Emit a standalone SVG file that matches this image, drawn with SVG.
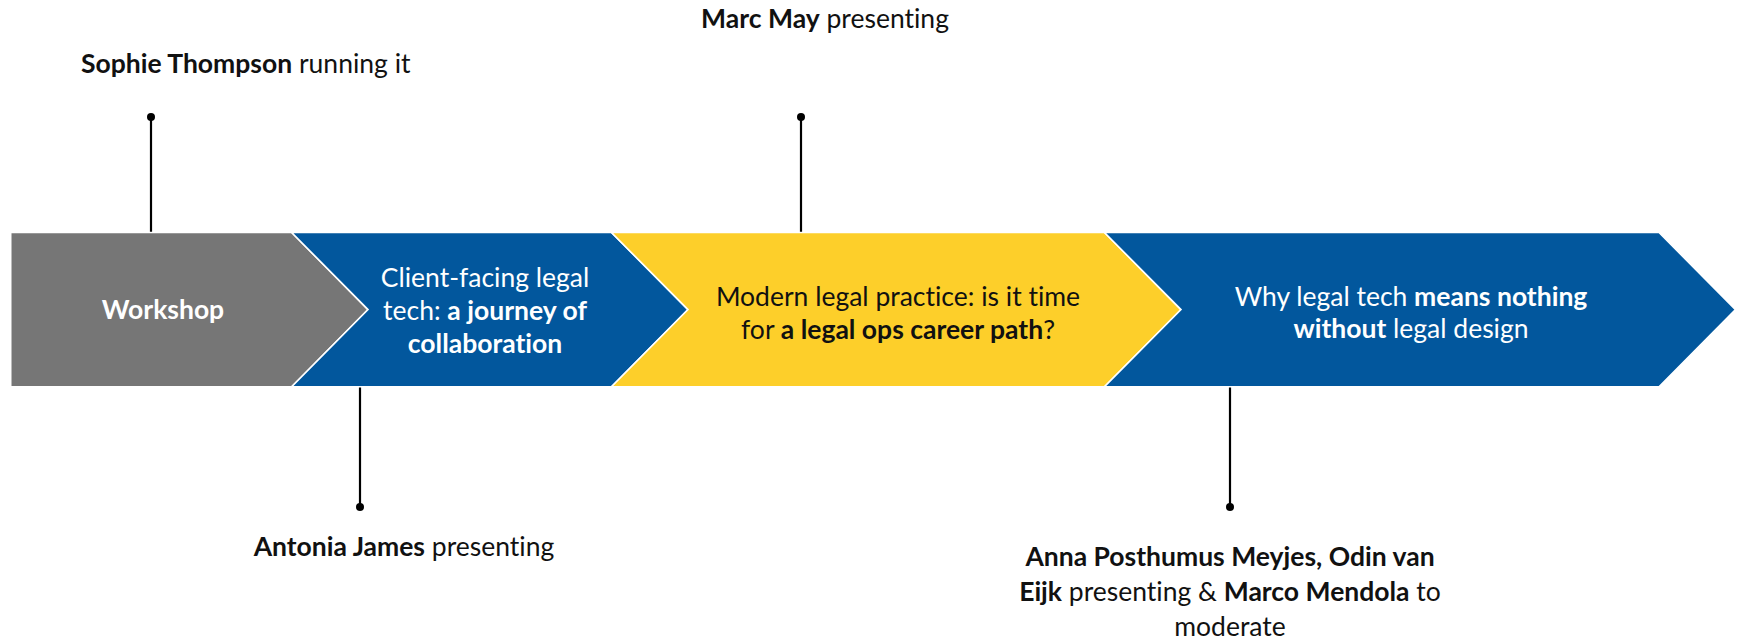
<svg xmlns="http://www.w3.org/2000/svg" width="1737" height="641" viewBox="0 0 1737 641">
<style>
text{font-family:Lato,"Open Sans","Liberation Sans",sans-serif;font-size:26.5px;font-variant-ligatures:none}
.b{font-weight:bold}
.w{fill:#ffffff}
.k{fill:#111111}
.c{text-anchor:middle}
.chev{stroke:#ffffff;stroke-width:1.6}
.ln{stroke:#000;stroke-width:2.2;fill:none}
</style>
<rect width="1737" height="641" fill="#ffffff"/>
<g id="connectors">
<line class="ln" x1="151" y1="117" x2="151" y2="233"/>
<circle cx="151" cy="117" r="4"/>
<line class="ln" x1="801" y1="117" x2="801" y2="233"/>
<circle cx="801" cy="117" r="4"/>
<line class="ln" x1="360" y1="387" x2="360" y2="507"/>
<circle cx="360" cy="507" r="4"/>
<line class="ln" x1="1230" y1="387" x2="1230" y2="507"/>
<circle cx="1230" cy="507" r="4"/>
</g>
<g id="node-workshop">
<path class="chev" fill="#767676" d="M10.7,232.5 H291.7 L368,309.6 L291.7,386.7 H10.7 Z"/>
<text class="w b c" x="163" y="319">Workshop</text>
</g>
<g id="node-client">
<path class="chev" fill="#02579D" d="M291.7,232.5 H611.5 L688,309.6 L611.5,386.7 H291.7 L368,309.6 Z"/>
<text class="w c" x="485" y="287">Client-facing legal</text>
<text class="w c" x="485" y="320">tech: <tspan class="b">a journey of</tspan></text>
<text class="w c b" x="485" y="353">collaboration</text>
</g>
<g id="node-modern">
<path class="chev" fill="#FDCF2A" d="M611.5,232.5 H1104.5 L1181,309.6 L1104.5,386.7 H611.5 L688,309.6 Z"/>
<text class="k c" x="898" y="306">Modern legal practice: is it time</text>
<text class="k c" x="898" y="339">for <tspan class="b">a legal ops career path</tspan>?</text>
</g>
<g id="node-why">
<path class="chev" fill="#02579D" d="M1104.5,232.5 H1659 L1735.5,309.6 L1659,386.7 H1104.5 L1181,309.6 Z"/>
<text class="w c" x="1411" y="306">Why legal tech <tspan class="b">means nothing</tspan></text>
<text class="w c" x="1411" y="338"><tspan class="b">without</tspan> legal design</text>
</g>
<g id="label-sophie">
<text class="k" x="81" y="73"><tspan class="b">Sophie Thompson</tspan> running it</text>
</g>
<g id="label-marc">
<text class="k c" x="825" y="28"><tspan class="b">Marc May</tspan> presenting</text>
</g>
<g id="label-antonia">
<text class="k c" x="404" y="556"><tspan class="b">Antonia James</tspan> presenting</text>
</g>
<g id="label-anna">
<text class="k c" x="1230" y="566"><tspan class="b">Anna Posthumus Meyjes, Odin van</tspan></text>
<text class="k c" x="1230" y="601"><tspan class="b">Eijk</tspan> presenting &amp; <tspan class="b">Marco Mendola</tspan> to</text>
<text class="k c" x="1230" y="636">moderate</text>
</g>
</svg>
